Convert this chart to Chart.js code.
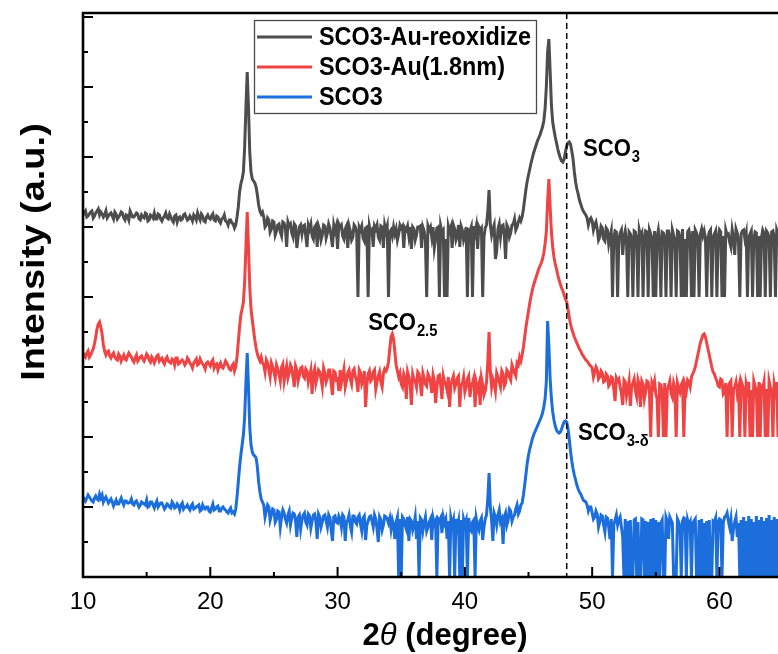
<!DOCTYPE html>
<html>
<head>
<meta charset="utf-8">
<title>XRD patterns</title>
<script src="https://cdn.jsdelivr.net/npm/chart.js@4.4.1/dist/chart.umd.min.js"></script>
<style>
  html, body { margin: 0; padding: 0; background: #ffffff; }
  #wrap { position: relative; width: 778px; height: 654px; }
</style>
</head>
<body>
<div id="wrap"><canvas id="xrd" width="778" height="654"></canvas></div>
<script>
// Main diffraction angle grid (2θ, degrees), shared by all three scans
const twoTheta = [
  10.0, 10.2, 10.4, 10.6, 10.8, 11.0, 11.2, 11.3, 11.4, 11.6,
  11.8, 12.0, 12.2, 12.4, 12.6, 12.8, 13.0, 13.2, 13.4, 13.6,
  13.8, 14.0, 14.2, 14.4, 14.6, 14.8, 15.0, 15.2, 15.4, 15.6,
  15.8, 16.0, 16.2, 16.4, 16.6, 16.8, 17.0, 17.2, 17.4, 17.6,
  17.8, 18.0, 18.2, 18.4, 18.6, 18.8, 19.0, 19.2, 19.4, 19.6,
  19.8, 20.0, 20.2, 20.4, 20.6, 20.8, 21.0, 21.2, 21.4, 21.6,
  21.8, 22.0, 22.1, 22.2, 22.3, 22.4, 22.5, 22.6, 22.7, 22.8,
  22.9, 23.0, 23.1, 23.2, 23.3, 23.4, 23.5, 23.6, 23.7, 23.8,
  23.9, 24.0, 24.2, 24.4, 24.6, 24.8, 25.0, 25.2, 25.4, 25.6,
  25.8, 26.0, 26.2, 26.4, 26.6, 26.8, 27.0, 27.2, 27.4, 27.6,
  27.8, 28.0, 28.2, 28.4, 28.6, 28.8, 29.0, 29.2, 29.4, 29.6,
  29.8, 30.0, 30.2, 30.4, 30.6, 30.8, 31.0, 31.2, 31.4, 31.6,
  31.8, 32.0, 32.2, 32.4, 32.6, 32.8, 33.0, 33.2, 33.4, 33.6,
  33.8, 34.0, 34.1, 34.2, 34.3, 34.4, 34.5, 34.6, 34.8, 35.0,
  35.2, 35.4, 35.6, 35.8, 36.0, 36.2, 36.4, 36.6, 36.8, 37.0,
  37.2, 37.4, 37.6, 37.8, 38.0, 38.2, 38.4, 38.6, 38.8, 39.0,
  39.2, 39.4, 39.6, 39.8, 40.0, 40.2, 40.4, 40.6, 40.8, 41.0,
  41.2, 41.4, 41.6, 41.7, 41.8, 41.9, 42.0, 42.1, 42.2, 42.4,
  42.6, 42.8, 43.0, 43.2, 43.4, 43.6, 43.8, 44.0, 44.2, 44.4,
  44.5, 44.6, 44.7, 44.8, 44.9, 45.0, 45.1, 45.2, 45.3, 45.4,
  45.5, 45.6, 45.7, 45.8, 45.9, 46.0, 46.1, 46.2, 46.3, 46.4,
  46.5, 46.6, 46.7, 46.8, 46.9, 47.0, 47.1, 47.2, 47.3, 47.4,
  47.5, 47.6, 47.7, 47.8, 47.9, 48.0, 48.1, 48.2, 48.3, 48.4,
  48.5, 48.6, 48.7, 48.8, 48.9, 49.0, 49.2, 49.4, 49.6, 49.8,
  50.0, 50.2, 50.4, 50.6, 50.8, 51.0, 51.2, 51.4, 51.6, 51.8,
  52.0, 52.2, 52.4, 52.6, 52.8, 53.0, 53.2, 53.4, 53.6, 53.8,
  54.0, 54.2, 54.4, 54.6, 54.8, 55.0, 55.2, 55.4, 55.6, 55.8,
  56.0, 56.2, 56.4, 56.6, 56.8, 57.0, 57.2, 57.4, 57.6, 57.8,
  58.0, 58.2, 58.4, 58.6, 58.7, 58.8, 58.9, 59.0, 59.2, 59.4,
  59.6, 59.8, 60.0, 60.2, 60.4, 60.6, 60.8, 61.0, 61.2, 61.4,
  61.6, 61.8, 62.0, 62.2, 62.4, 62.6, 62.8, 63.0, 63.2, 63.4,
  63.6, 63.8, 64.0, 64.2, 64.4, 64.6
];

// In-between angles sampled across the noisy background stretches
const twoThetaFine = [
  10.1, 10.3, 10.5, 10.7, 10.9, 11.1, 11.5, 11.7, 11.9, 12.1,
  12.3, 12.5, 12.7, 12.9, 13.1, 13.3, 13.5, 13.7, 13.9, 14.1,
  14.3, 14.5, 14.7, 14.9, 15.1, 15.3, 15.5, 15.7, 15.9, 16.1,
  16.3, 16.5, 16.7, 16.9, 17.1, 17.3, 17.5, 17.7, 17.9, 18.1,
  18.3, 18.5, 18.7, 18.9, 19.1, 19.3, 19.5, 19.7, 19.9, 20.1,
  20.3, 20.5, 20.7, 20.9, 21.1, 21.3, 21.5, 21.7, 21.9, 24.1,
  24.3, 24.5, 24.7, 24.9, 25.1, 25.3, 25.5, 25.7, 25.9, 26.1,
  26.3, 26.5, 26.7, 26.9, 27.1, 27.3, 27.5, 27.7, 27.9, 28.1,
  28.3, 28.5, 28.7, 28.9, 29.1, 29.3, 29.5, 29.7, 29.9, 30.1,
  30.3, 30.5, 30.7, 30.9, 31.1, 31.3, 31.5, 31.7, 31.9, 32.1,
  32.3, 32.5, 32.7, 32.9, 33.1, 33.3, 33.5, 33.7, 33.9, 34.7,
  34.9, 35.1, 35.3, 35.5, 35.7, 35.9, 36.1, 36.3, 36.5, 36.7,
  36.9, 37.1, 37.3, 37.5, 37.7, 37.9, 38.1, 38.3, 38.5, 38.7,
  38.9, 39.1, 39.3, 39.5, 39.7, 39.9, 40.1, 40.3, 40.5, 40.7,
  40.9, 41.1, 41.3, 41.5, 42.3, 42.5, 42.7, 42.9, 43.1, 43.3,
  43.5, 43.7, 43.9, 44.1, 44.3, 49.1, 49.3, 49.5, 49.7, 49.9,
  50.1, 50.3, 50.5, 50.7, 50.9, 51.1, 51.3, 51.5, 51.7, 51.9,
  52.1, 52.3, 52.5, 52.7, 52.9, 53.1, 53.3, 53.5, 53.7, 53.9,
  54.1, 54.3, 54.5, 54.7, 54.9, 55.1, 55.3, 55.5, 55.7, 55.9,
  56.1, 56.3, 56.5, 56.7, 56.9, 57.1, 57.3, 57.5, 57.7, 57.9,
  58.1, 58.3, 58.5, 59.1, 59.3, 59.5, 59.7, 59.9, 60.1, 60.3,
  60.5, 60.7, 60.9, 61.1, 61.3, 61.5, 61.7, 61.9, 62.1, 62.3,
  62.5, 62.7, 62.9, 63.1, 63.3, 63.5, 63.7, 63.9, 64.1, 64.3,
  64.5
];

// Stacked log-intensity traces (a.u.), each already carrying its vertical offset
const reoxidizeIntensity = [
  362, 366, 361, 365, 359, 364, 368, 362, 365, 360,
  366, 361, 364, 358, 363, 360, 365, 359, 362, 357,
  363, 360, 364, 358, 362, 359, 363, 357, 361, 364,
  358, 362, 356, 361, 359, 363, 357, 361, 355, 360,
  358, 363, 357, 361, 356, 360, 364, 357, 361, 355,
  362, 358, 363, 356, 360, 354, 359, 356, 352, 357,
  353, 352, 360, 370, 385, 393, 398, 405, 430, 470,
  505, 470, 425, 405, 398, 396, 394, 390, 382, 372,
  366, 363, 360, 352, 357, 348, 355, 346, 353, 341,
  354, 330, 351, 344, 353, 329, 350, 343, 352, 330,
  348, 341, 350, 330, 347, 342, 351, 344, 349, 330,
  346, 328, 350, 341, 348, 329, 346, 340, 350, 280,
  347, 339, 349, 280, 345, 330, 348, 340, 351, 329,
  346, 280, 345, 347, 341, 350, 343, 348, 343, 349,
  329, 347, 341, 328, 348, 342, 350, 329, 346, 280,
  347, 340, 329, 349, 280, 345, 280, 280, 346, 329,
  348, 341, 330, 347, 342, 280, 346, 280, 344, 328,
  347, 280, 349, 352, 365, 387, 352, 342, 348, 318,
  348, 340, 352, 318, 349, 344, 353, 347, 355, 356,
  360, 368, 378, 388, 396, 402, 408, 414, 419, 424,
  428, 432, 436, 439, 442, 446, 450, 456, 468, 490,
  525, 538, 505, 472, 455, 447, 440, 434, 428, 423,
  419, 416, 415, 418, 425, 431, 434, 435, 433, 426,
  418, 405, 395, 388, 383, 377, 369, 364, 359, 357,
  356, 352, 348, 340, 349, 336, 347, 340, 280, 346,
  280, 344, 322, 346, 280, 343, 280, 345, 280, 341,
  280, 346, 280, 343, 280, 280, 347, 280, 344, 280,
  346, 280, 342, 280, 345, 280, 280, 280, 347, 280,
  280, 344, 280, 348, 341, 346, 339, 280, 345, 280,
  343, 280, 347, 280, 280, 342, 335, 347, 322, 344,
  280, 346, 338, 280, 343, 280, 345, 280, 280, 347,
  280, 344, 280, 346, 280, 343
];
const reoxidizeFine = [
  364, 360, 363, 366, 361, 366, 363, 362, 359, 363,
  361, 365, 358, 362, 364, 357, 361, 366, 360, 362,
  363, 357, 360, 364, 356, 362, 359, 358, 363, 358,
  359, 364, 358, 360, 355, 362, 359, 357, 362, 360,
  358, 359, 362, 357, 360, 363, 356, 360, 359, 361,
  357, 361, 356, 358, 362, 355, 357, 354, 349, 365,
  350, 359, 345, 356, 342, 352, 345, 355, 349, 355,
  353, 340, 351, 340, 352, 351, 341, 352, 353, 338,
  352, 351, 337, 352, 339, 353, 340, 352, 351, 353,
  352, 338, 351, 351, 337, 352, 345, 350, 351, 336,
  350, 351, 347, 351, 352, 337, 350, 352, 351, 337,
  352, 351, 349, 351, 350, 350, 337, 350, 351, 350,
  337, 351, 350, 350, 338, 350, 351, 347, 338, 351,
  350, 352, 337, 352, 351, 337, 350, 347, 350, 351,
  351, 350, 349, 340, 352, 326, 353, 351, 342, 352,
  340, 352, 358, 350, 359, 373, 366, 362, 352, 359,
  347, 355, 337, 351, 338, 349, 333, 346, 339, 345,
  338, 347, 340, 336, 345, 339, 346, 338, 347, 344,
  339, 345, 347, 338, 346, 340, 336, 345, 339, 346,
  340, 347, 336, 346, 339, 348, 338, 345, 340, 346,
  347, 339, 343, 338, 347, 340, 346, 339, 345, 341,
  347, 343, 330, 339, 348, 335, 343, 347, 344, 340,
  346, 338, 344, 341, 339, 344, 346, 339, 345, 340,
  347
];

const auIntensity = [
  224, 220, 226, 222, 228, 240, 253, 255, 250, 232,
  222, 226, 219, 224, 218, 223, 216, 222, 217, 224,
  220, 215, 222, 218, 221, 216, 223, 217, 220, 214,
  221, 216, 219, 213, 220, 215, 218, 212, 219, 214,
  217, 212, 219, 214, 209, 216, 212, 218, 213, 208,
  215, 211, 217, 212, 207, 214, 209, 216, 211, 207,
  213, 210, 220, 235, 250, 262, 268, 275, 295, 330,
  365, 330, 290, 268, 257, 247, 237, 229, 223, 219,
  216, 220, 212, 217, 207, 214, 205, 212, 203, 210,
  196, 211, 204, 209, 190, 207, 202, 210, 199, 206,
  201, 183, 208, 200, 205, 190, 204, 199, 207, 182,
  205, 198, 207, 201, 190, 204, 198, 206, 200, 185,
  204, 197, 170, 203, 196, 205, 188, 201, 195, 204,
  206, 215, 228, 240, 243, 238, 225, 212, 200, 193,
  203, 178, 200, 172, 198, 190, 203, 181, 199, 191,
  200, 184, 196, 189, 202, 178, 195, 187, 170, 197,
  189, 199, 170, 193, 185, 198, 180, 194, 170, 188,
  172, 192, 186, 195, 215, 245, 205, 190, 198, 186,
  200, 190, 203, 194, 205, 197, 208, 201, 212, 216,
  222, 230, 240, 250, 258, 266, 274, 281, 287, 292,
  296, 300, 304, 308, 311, 314, 318, 324, 333, 345,
  375, 398, 370, 345, 330, 320, 313, 308, 302, 297,
  293, 289, 286, 282, 278, 275, 268, 260, 253, 248,
  244, 240, 237, 234, 231, 228, 223, 219, 216, 212,
  209, 205, 207, 200, 204, 196, 201, 193, 199, 176,
  196, 190, 172, 195, 188, 171, 194, 186, 197, 170,
  193, 185, 195, 140, 190, 183, 140, 192, 140, 140,
  191, 184, 194, 140, 189, 192, 140, 186, 195, 200,
  206, 216, 228, 238, 242, 243, 240, 234, 222, 210,
  203, 196, 190, 197, 185, 140, 194, 140, 190, 183,
  140, 192, 140, 187, 140, 140, 191, 140, 140, 188,
  140, 140, 190, 140, 186, 140
];
const auFine = [
  222, 224, 220, 225, 233, 248, 243, 226, 225, 221,
  222, 220, 217, 221, 219, 218, 221, 222, 217, 219,
  216, 220, 218, 219, 221, 215, 218, 217, 222, 218,
  215, 218, 216, 214, 217, 219, 213, 216, 215, 214,
  217, 212, 214, 218, 213, 215, 211, 214, 213, 215,
  209, 213, 211, 210, 212, 214, 208, 211, 206, 214,
  205, 214, 200, 210, 199, 208, 196, 213, 204, 199,
  212, 200, 211, 196, 209, 201, 208, 195, 207, 203,
  194, 207, 198, 209, 195, 207, 193, 206, 197, 186,
  194, 208, 196, 207, 193, 208, 196, 207, 193, 206,
  192, 206, 198, 207, 195, 205, 190, 208, 209, 206,
  204, 190, 199, 205, 193, 203, 196, 205, 193, 204,
  193, 203, 195, 202, 174, 201, 192, 201, 193, 200,
  192, 201, 193, 201, 192, 200, 190, 201, 192, 199,
  194, 193, 199, 182, 194, 204, 195, 206, 191, 207,
  200, 212, 204, 214, 220, 226, 221, 217, 214, 211,
  200, 210, 198, 206, 195, 203, 191, 200, 188, 199,
  198, 184, 197, 181, 196, 190, 198, 180, 192, 196,
  178, 196, 186, 194, 196, 178, 193, 183, 194, 187,
  196, 180, 189, 194, 185, 195, 191, 197, 190, 203,
  210, 222, 234, 228, 216, 205, 199, 191, 198, 183,
  194, 189, 196, 188, 195, 189, 196, 188, 193, 195,
  187, 196, 186, 195, 190, 195, 188, 196, 187, 193,
  195
];

const sco3Intensity = [
  80, 76, 82, 78, 75, 81, 77, 83, 79, 75,
  80, 74, 78, 71, 77, 73, 79, 72, 76, 74,
  78, 72, 76, 70, 75, 73, 77, 71, 75, 69,
  76, 72, 74, 68, 73, 70, 75, 69, 73, 67,
  74, 70, 72, 67, 73, 69, 71, 66, 72, 68,
  70, 65, 73, 68, 71, 66, 70, 67, 64, 69,
  65, 68, 80, 95, 110, 122, 132, 142, 160, 195,
  224, 190, 150, 132, 125, 122, 121, 119, 110, 95,
  85, 78, 72, 66, 70, 62, 67, 58, 65, 60,
  64, 54, 66, 59, 63, 40, 62, 57, 64, 52,
  61, 56, 63, 38, 60, 55, 62, 50, 59, 36,
  61, 54, 58, 62, 36, 57, 51, 61, 55, 60,
  53, 59, 37, 56, 61, 50, 58, 35, 57, 52,
  60, 54, 59, 48, 57, 52, 38, 55, 0, 0,
  58, 48, 36, 56, 52, 38, 0, 57, 54, 46,
  55, 37, 53, 0, 56, 44, 54, 38, 0, 52,
  0, 50, 0, 0, 53, 0, 48, 55, 0, 51,
  56, 37, 58, 62, 78, 104, 70, 57, 36, 60,
  62, 55, 33, 64, 57, 66, 60, 68, 63, 72,
  74, 82, 92, 103, 114, 122, 128, 133, 138, 142,
  145, 148, 151, 154, 157, 160, 164, 170, 178, 195,
  256, 232, 198, 178, 165, 157, 151, 147, 145, 144,
  145, 148, 152, 155, 156, 155, 149, 138, 126, 116,
  108, 102, 97, 92, 88, 85, 80, 76, 72, 70,
  64, 60, 63, 55, 61, 45, 59, 38, 0, 57,
  52, 60, 40, 58, 56, 57, 0, 58, 55, 0,
  57, 56, 55, 58, 59, 57, 55, 54, 0, 60,
  38, 57, 0, 0, 55, 0, 59, 0, 52, 0,
  56, 0, 57, 58, 0, 54, 0, 56, 57, 0,
  55, 0, 58, 0, 60, 64, 50, 36, 55, 40,
  0, 0, 0, 0, 0, 0, 0, 0, 0, 0,
  0, 0, 0, 0, 0, 0
];
const sco3Fine = [
  78, 79, 80, 76, 79, 78, 82, 78, 77, 76,
  75, 74, 73, 76, 75, 76, 74, 75, 73, 75,
  73, 72, 74, 72, 70, 75, 72, 73, 70, 74,
  71, 70, 72, 69, 73, 70, 71, 72, 68, 70,
  69, 71, 68, 70, 72, 67, 69, 70, 66, 69,
  67, 70, 66, 69, 68, 65, 67, 64, 63, 75,
  60, 72, 57, 68, 55, 66, 50, 67, 58, 62,
  52, 64, 56, 60, 48, 62, 55, 63, 49, 62,
  55, 63, 50, 61, 56, 62, 47, 60, 55, 61,
  50, 60, 55, 62, 45, 61, 53, 62, 46, 61,
  52, 60, 56, 62, 48, 60, 47, 61, 58, 60,
  58, 60, 52, 60, 58, 47, 60, 56, 59, 46,
  60, 50, 58, 59, 56, 58, 59, 60, 58, 56,
  59, 57, 58, 56, 57, 58, 57, 59, 46, 57,
  58, 47, 59, 50, 64, 52, 67, 58, 60, 52,
  68, 56, 62, 72, 66, 83, 77, 75, 66, 70,
  58, 66, 50, 62, 52, 60, 50, 58, 52, 62,
  57, 50, 0, 0, 0, 0, 57, 0, 0, 58,
  0, 0, 0, 0, 0, 0, 0, 57, 0, 56,
  60, 54, 0, 58, 50, 56, 58, 57, 55, 54,
  58, 0, 0, 0, 0, 56, 59, 55, 57, 54,
  61, 56, 58, 48, 60, 54, 57, 60, 56, 61,
  58, 55, 61, 57, 60, 56, 59, 62, 57, 60,
  58
];

const seriesNames = ['SCO3-Au-reoxidize', 'SCO3-Au(1.8nm)', 'SCO3'];
const seriesColors = ['#4d4d4d', '#f04343', '#1c6edc'];

const xTickValues = [10, 20, 30, 40, 50, 60];
const xTickLabels = ['10', '20', '30', '40', '50', '60'];
const xMinorTicks = [15, 25, 35, 45, 55];
const yMajorTicks = [70, 140, 210, 280, 350, 420, 490, 560];
const yMinorTicks = [35, 105, 175, 245, 315, 385, 455, 525];

// Reference position of the perovskite SCO3 reflection
const referenceLine = 48.0;

// Phase labels: base text, subscript, anchor (2θ, intensity)
const phaseLabels = [
  { text: 'SCO', sub: '3',   x: 49.28, y: 421 },
  { text: 'SCO', sub: '2.5', x: 32.40, y: 247 },
  { text: 'SCO', sub: '3-δ', x: 48.88, y: 137 }
];

const traces = [
  [reoxidizeIntensity, reoxidizeFine],
  [auIntensity, auFine],
  [sco3Intensity, sco3Fine]
];
traces.forEach(([main, fine], i) => {
  if (main.length !== twoTheta.length || fine.length !== twoThetaFine.length) {
    throw new Error('length mismatch in ' + seriesNames[i] + ': ' + main.length + '/' + twoTheta.length +
      ', ' + fine.length + '/' + twoThetaFine.length);
  }
});

// Merge the main and in-between samples of one scan into a single sorted point list
function scanPoints(main, fine) {
  return twoTheta.map((v, k) => ({ x: v, y: main[k] }))
    .concat(twoThetaFine.map((v, k) => ({ x: v, y: fine[k] })))
    .sort((p, q) => p.x - q.x);
}

const FONT = '"Liberation Sans", Arial, Helvetica, sans-serif';

const frame = {
  id: 'frame',
  afterDatasetsDraw(chart) {
    const { ctx, chartArea: a, scales: { x, y } } = chart;
    ctx.save();

    // dashed reference line
    const xr = x.getPixelForValue(referenceLine);
    ctx.strokeStyle = '#000';
    ctx.lineWidth = 1.5;
    ctx.setLineDash([6, 4]);
    ctx.beginPath();
    ctx.moveTo(xr, a.top);
    ctx.lineTo(xr, a.bottom);
    ctx.stroke();
    ctx.setLineDash([]);

    // axes box (left, bottom, top)
    ctx.lineWidth = 2.6;
    ctx.beginPath();
    ctx.moveTo(a.right + 2, a.top);
    ctx.lineTo(a.left, a.top);
    ctx.lineTo(a.left, a.bottom);
    ctx.lineTo(a.right + 2, a.bottom);
    ctx.stroke();

    // inward ticks
    ctx.lineWidth = 2;
    ctx.beginPath();
    xTickValues.forEach(v => {
      const px = x.getPixelForValue(v);
      ctx.moveTo(px, a.bottom); ctx.lineTo(px, a.bottom - 10);
    });
    xMinorTicks.forEach(v => {
      const px = x.getPixelForValue(v);
      ctx.moveTo(px, a.bottom); ctx.lineTo(px, a.bottom - 5);
    });
    yMajorTicks.forEach(v => {
      const py = y.getPixelForValue(v);
      ctx.moveTo(a.left, py); ctx.lineTo(a.left + 10, py);
    });
    yMinorTicks.forEach(v => {
      const py = y.getPixelForValue(v);
      ctx.moveTo(a.left, py); ctx.lineTo(a.left + 5, py);
    });
    ctx.stroke();

    // tick labels
    ctx.fillStyle = '#000';
    ctx.font = '24px ' + FONT;
    ctx.textAlign = 'center';
    ctx.textBaseline = 'middle';
    xTickValues.forEach((v, i) => {
      ctx.fillText(xTickLabels[i], x.getPixelForValue(v), 602);
    });

    // x title: 2θ (degree)
    const boldT = 'bold 31px ' + FONT;
    const italT = 'italic 31px ' + FONT;
    ctx.textAlign = 'left';
    ctx.textBaseline = 'alphabetic';
    ctx.font = boldT; const w1 = ctx.measureText('2').width;
    ctx.font = italT; const w2 = ctx.measureText('θ').width;
    ctx.font = boldT; const w3 = ctx.measureText(' (degree)').width;
    let tx = 445 - (w1 + w2 + w3) / 2;
    const ty = 645;
    ctx.font = boldT; ctx.fillText('2', tx, ty); tx += w1;
    ctx.font = italT; ctx.fillText('θ', tx, ty); tx += w2;
    ctx.font = boldT; ctx.fillText(' (degree)', tx, ty);

    // y title, slightly condensed across its height
    ctx.save();
    ctx.translate(44, 252);
    ctx.rotate(-Math.PI / 2);
    ctx.scale(1, 0.85);
    ctx.font = 'bold 38px ' + FONT;
    ctx.textAlign = 'center';
    ctx.textBaseline = 'alphabetic';
    ctx.fillText('Intensity (a.u.)', 0, 0);
    ctx.restore();

    // phase labels
    phaseLabels.forEach(l => {
      const px = x.getPixelForValue(l.x);
      const py = y.getPixelForValue(l.y);
      ctx.font = 'bold 24px ' + FONT;
      ctx.save();
      ctx.translate(px, py);
      ctx.scale(0.92, 1);
      ctx.fillText(l.text, 0, 0);
      const w = ctx.measureText(l.text).width;
      ctx.font = 'bold 16px ' + FONT;
      ctx.fillText(l.sub, w + 1, 6);
      ctx.restore();
    });

    // legend
    const lx = 254.5, ly = 20.5, lw = 282, lh = 93;
    ctx.fillStyle = '#fff';
    ctx.fillRect(lx, ly, lw, lh);
    ctx.strokeStyle = '#4a4a4a';
    ctx.lineWidth = 1.3;
    ctx.strokeRect(lx, ly, lw, lh);
    chart.data.datasets.forEach((ds, i) => {
      const rowY = 37 + i * 30;
      ctx.strokeStyle = ds.borderColor;
      ctx.lineWidth = 3;
      ctx.beginPath();
      ctx.moveTo(257, rowY);
      ctx.lineTo(312, rowY);
      ctx.stroke();
      ctx.fillStyle = '#000';
      ctx.font = 'bold 26px ' + FONT;
      ctx.textBaseline = 'middle';
      ctx.save();
      ctx.translate(319, rowY + 1);
      ctx.scale(0.9, 1);
      ctx.fillText(ds.label, 0, 0);
      ctx.restore();
    });

    ctx.restore();
  }
};

new Chart(document.getElementById('xrd'), {
  type: 'line',
  data: {
    datasets: traces.map(([main, fine], i) => ({
      label: seriesNames[i],
      data: scanPoints(main, fine),
      borderColor: seriesColors[i],
      borderWidth: 3,
      pointRadius: 0,
      tension: 0,
      fill: false,
      borderJoinStyle: 'miter'
    }))
  },
  options: {
    responsive: false,
    animation: false,
    devicePixelRatio: 1,
    layout: { padding: { left: 83, right: 0, top: 13, bottom: 77 } },
    plugins: { legend: { display: false }, tooltip: { enabled: false } },
    scales: {
      x: { type: 'linear', min: 10, max: 64.6, display: false },
      y: { type: 'linear', min: 0, max: 564, display: false }
    }
  },
  plugins: [frame]
});
</script>
</body>
</html>
